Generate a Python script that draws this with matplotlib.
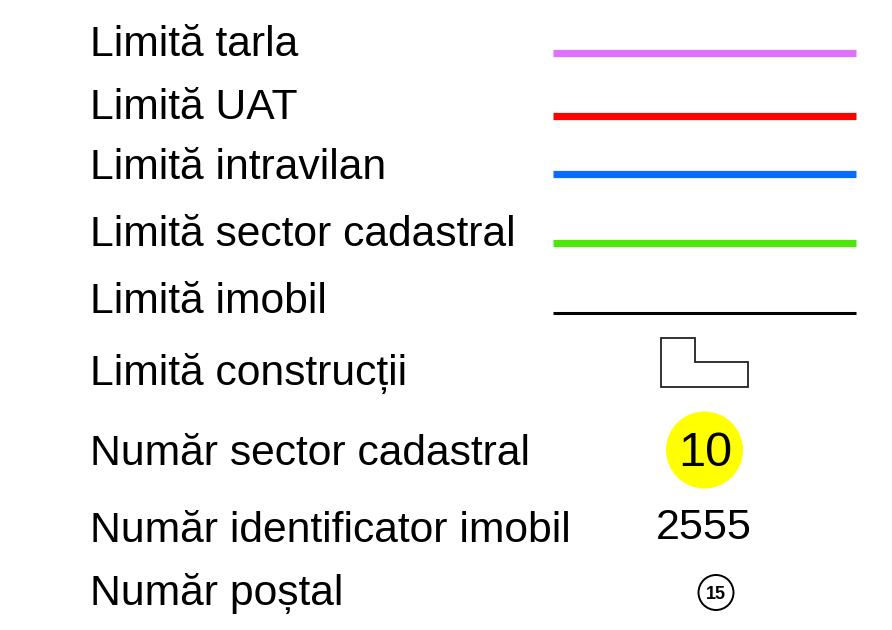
import matplotlib
matplotlib.use("Agg")
import matplotlib.pyplot as plt
from matplotlib.patches import Circle, Polygon

plt.rcParams['font.family'] = ['Liberation Sans', 'DejaVu Sans']

# ---- legend content ----
labels = ["Limită tarla", "Limită UAT", "Limită intravilan",
          "Limită sector cadastral", "Limită imobil", "Limită construcții",
          "Număr sector cadastral", "Număr identificator imobil", "Număr poștal"]
label_baselines = [56, 119, 179, 246, 313, 385, 465, 542, 605]

line_colors = ["#e070ff", "#ff0000", "#0a6cff", "#4ce60a", "#000000"]
line_y = [53, 116, 174, 243, 313]
line_widths = [5.2, 5.2, 5.2, 5.2, 2.2]

sector_number = "10"
property_id = "2555"
postal_number = "15"

# construction outline (L-shape) vertices
constr_x = [661, 695, 695, 748, 748, 661]
constr_y = [338, 338, 362, 362, 387, 387]

W, H = 892, 630
fig = plt.figure(figsize=(W / 100, H / 100), dpi=100)
ax = fig.add_axes([0, 0, 1, 1])
ax.set_xlim(0, W)
ax.set_ylim(H, 0)
ax.axis('off')

for lab, yb in zip(labels, label_baselines):
    ax.text(89.5, yb, lab, fontsize=30.7, va='baseline', ha='left', color='black')

for c, y, lw in zip(line_colors, line_y, line_widths):
    ax.plot([553, 856], [y, y], color=c, lw=lw, solid_capstyle='butt')

ax.add_patch(Polygon(list(zip(constr_x, constr_y)), closed=True,
                     fill=False, edgecolor='#222222', lw=1.3, joinstyle='miter'))

ax.add_patch(Circle((704.5, 450), 38.5, facecolor='#ffff00', edgecolor='none'))
ax.text(705, 466, sector_number, fontsize=35, ha='center', va='baseline', color='black')

ax.text(704, 539, property_id, fontsize=31, ha='center', va='baseline', color='black')

ax.add_patch(Circle((716, 592.5), 17.5, facecolor='white', edgecolor='black', lw=1.4))
ax.text(716, 592.5, postal_number, fontsize=13, fontweight='bold',
        ha='center', va='center_baseline', color='black')

fig.savefig("out.png", dpi=100, facecolor='white')
